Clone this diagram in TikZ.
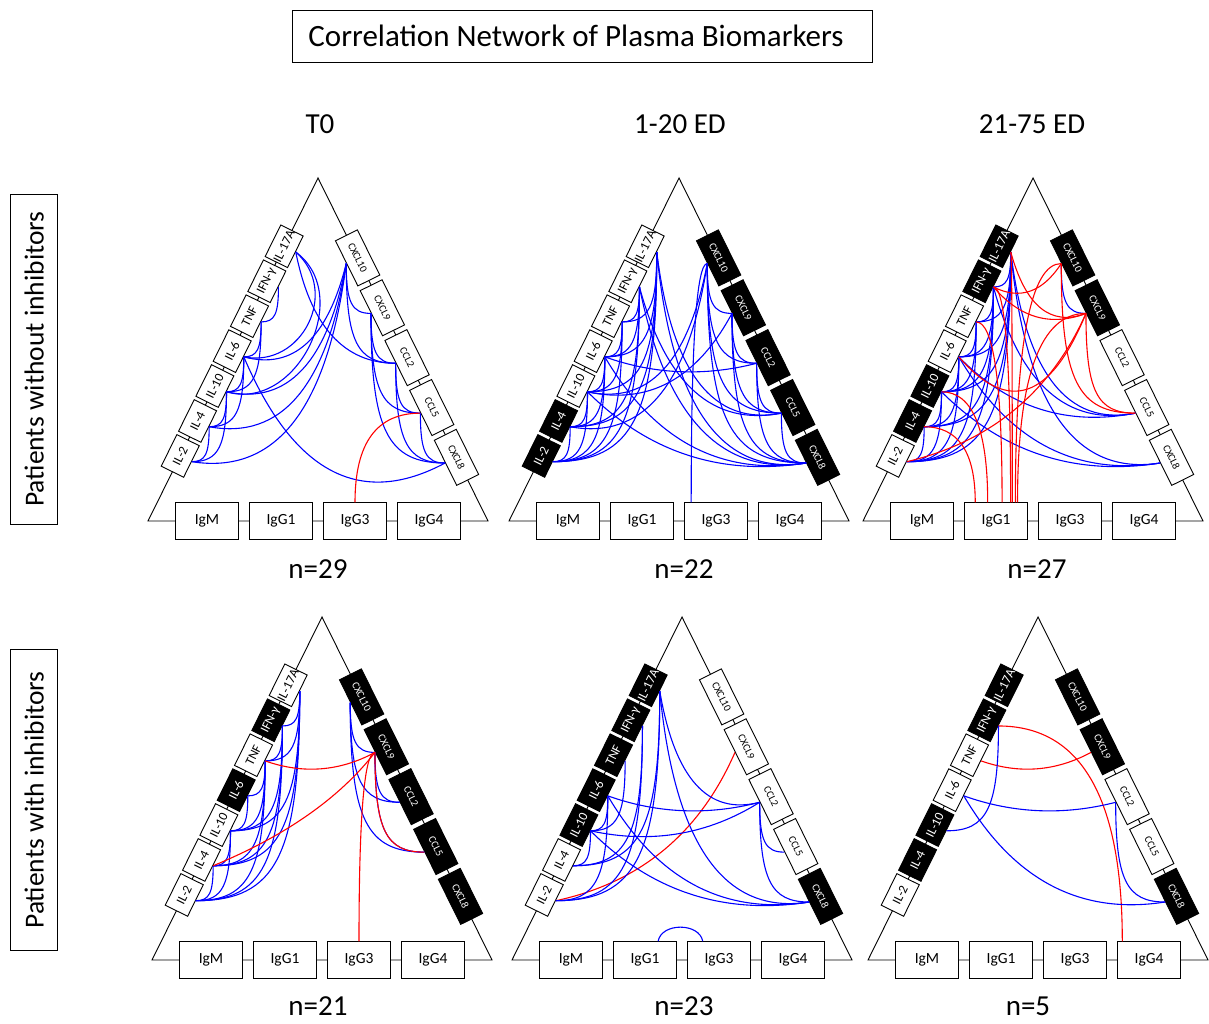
\documentclass[tikz,border=0pt]{standalone}
\usepackage{fontspec}
\setmainfont{Carlito}
\usetikzlibrary{calc}
\colorlet{w}{white}\colorlet{k}{black}\colorlet{tw}{black}\colorlet{tk}{white}
\definecolor{eb}{RGB}{0,0,255}
\definecolor{er}{RGB}{255,0,0}
\newcommand\lname[1]{\ifcase#1\relax IL-2\or IL-4\or IL-10\or IL-6\or TNF\or IFN-γ\or IL-17A\fi}
\newcommand\rname[1]{\ifcase#1\relax CXCL10\or CXCL9\or CCL2\or CCL5\or CXCL8\fi}
\newcommand\bname[1]{\ifcase#1\relax IgM\or IgG1\or IgG3\or IgG4\fi}
\tikzset{
 tri/.style={draw=black, line width=0.9pt},
 lbox/.style={draw=black, line width=0.9pt, minimum width=35.2pt, minimum height=25pt, inner sep=0pt, rotate=63.64, font=\fontsize{13}{13}\selectfont},
 rbox/.style={draw=black, line width=0.9pt, minimum width=50.4pt, minimum height=24.5pt, inner sep=0pt, rotate=-63.64, font=\fontsize{10.5}{10.5}\selectfont},
 bbox/.style={draw=black, fill=white, line width=0.9pt, minimum width=63pt, minimum height=36.5pt, inner sep=0pt, font=\fontsize{15.5}{15.5}\selectfont},
 bl/.style={draw=eb, line width=1.1pt},
 rd/.style={draw=er, line width=1.1pt},
 hdr/.style={font=\fontsize{29}{29}\selectfont, inner sep=0pt},
 rowlab/.style={draw=black, line width=0.9pt, rotate=90, minimum height=47pt, inner sep=0pt, font=\fontsize{27.5}{27.5}\selectfont},
}
\newcommand\tripanel[5]{%
 \draw[tri] ({#2-170},#3) -- (#2,{#3+343}) -- ({#2+170},#3) -- cycle;
 \foreach \c [count=\k from 0] in {#4}{%
   \node[lbox,fill=\c,text=t\c] (#1L\k) at ({#2-170+0.4441*(72.6+39*\k)},{#3+0.896*(72.6+39*\k)}) {\lname{\k}};}
 \foreach \c [count=\k from 0] in {#5}{%
   \node[rbox,fill=\c,text=t\c] (#1R\k) at ({#2+0.4441*(89.2+55.65*\k)},{#3+343-0.896*(89.2+55.65*\k)}) {\rname{\k}};}
 \foreach \d [count=\k from 0] in {-111,-37,37,111}{%
   \node[bbox] (#1B\k) at ({#2+\d},#3) {\bname{\k}};}
}
% quadratic-like curve from #3 to #4 with control point #5, factor #1
\newcommand\qd[5][0.6667]{\draw[#2] (#3) .. controls ($(#3)!#1!(#5)$) and ($(#4)!#1!(#5)$) .. (#4);}
\newcommand\LL[3]{\qd[0.78]{#1}{#2.south}{#3.south}{#3.south |- #2.south}}
\newcommand\RR[3]{\qd[0.78]{#1}{#2.south}{#3.south}{#2.south |- #3.south}}
\newcommand\XB[3]{\qd{#1}{#2.south}{#3}{#3 |- #2.south}}
\newcommand\LR[5][20]{\draw[#2] let \p1=(#3.south), \p2=(#4.south) in (\p1) .. controls ($(\p1)!0.6667!(#5pt,{min(\y1,\y2)-(#1pt)})$) and ($(\p2)!0.6667!(#5pt,{min(\y1,\y2)-(#1pt)})$) .. (\p2);}
\begin{document}
\begin{tikzpicture}[x=1pt,y=1pt]
\useasboundingbox (0,0) rectangle (1209,1023);
\node[draw, line width=0.9pt, minimum width=580pt, minimum height=52pt, inner sep=0pt, font=\fontsize{31}{31}\selectfont] (title) at (582,987) {Correlation Network of Plasma Biomarkers\hspace*{12pt}};
\node[hdr] (h1) at (320,899) {T0};
\node[hdr] (h2) at (680,899) {1-20 ED};
\node[hdr] (h3) at (1032,899) {21-75 ED};
\node[rowlab, minimum width=330pt] (r1) at (34.2,664) {Patients without inhibitors};
\node[rowlab, minimum width=301.7pt] (r2) at (34.2,223.1) {Patients with inhibitors};
\node[hdr] (n1) at (318,454) {n=29};
\node[hdr] (n2) at (684,454) {n=22};
\node[hdr] (n3) at (1037,454) {n=27};
\node[hdr] (n4) at (318,17) {n=21};
\node[hdr] (n5) at (684,17) {n=23};
\node[hdr] (n6) at (1028,17) {n=5};

\tripanel{a}{318}{502}{w,w,w,w,w,w,w}{w,w,w,w,w}
\tripanel{b}{679}{502}{k,k,w,w,w,w,w}{k,k,k,k,k}
\tripanel{c}{1033}{502}{w,k,k,w,w,k,k}{k,k,w,w,w}
\tripanel{d}{322}{63}{w,w,w,k,w,k,w}{k,k,k,k,k}
\tripanel{e}{682}{63}{w,w,k,k,k,k,k}{w,w,w,w,k}
\tripanel{f}{1038}{63}{w,k,k,w,w,k,k}{k,k,w,w,k}

% panel a
\LL{bl}{aL0}{aL1}\LL{bl}{aL0}{aL2}\LL{bl}{aL1}{aL2}\LL{bl}{aL1}{aL3}\LL{bl}{aL2}{aL3}
\LL{bl}{aL2}{aL4}\LL{bl}{aL3}{aL4}\LL{bl}{aL4}{aL5}
\draw[bl] (aL2.south) to[bend right=80, looseness=1.2] (aL6.south);
\draw[bl] (aL3.south) to[bend right=75, looseness=1.3] (aL6.south);
\LR{bl}{aL0}{aR0}{318}\LR{bl}{aL2}{aR0}{318}\LR{bl}{aL1}{aR0}{318}\LR{bl}{aL3}{aR0}{318}
\LR[0]{bl}{aL6}{aR2}{318}\LR[68]{bl}{aL3}{aR4}{318}
\RR{bl}{aR0}{aR1}\RR{bl}{aR0}{aR2}\RR{bl}{aR1}{aR2}\RR{bl}{aR1}{aR3}\RR{bl}{aR1}{aR4}
\RR{bl}{aR2}{aR3}\RR{bl}{aR2}{aR4}\RR{bl}{aR3}{aR4}
\XB{rd}{aR3}{aB2.north}

% panel b
\LL{bl}{bL0}{bL1}\LL{bl}{bL0}{bL2}\LL{bl}{bL0}{bL3}\LL{bl}{bL0}{bL4}\LL{bl}{bL0}{bL5}\LL{bl}{bL0}{bL6}
\LL{bl}{bL1}{bL2}\LL{bl}{bL1}{bL3}\LL{bl}{bL1}{bL5}\LL{bl}{bL1}{bL6}\LL{bl}{bL2}{bL3}\LL{bl}{bL2}{bL4}
\LL{bl}{bL3}{bL4}\LL{bl}{bL3}{bL5}\LL{bl}{bL4}{bL5}\LL{bl}{bL2}{bL6}\LL{bl}{bL3}{bL6}\LL{bl}{bL4}{bL6}
\LR{bl}{bL1}{bR0}{679}\LR{bl}{bL2}{bR0}{679}\LR{bl}{bL3}{bR2}{679}\LR{bl}{bL2}{bR1}{679}
\LR{bl}{bL2}{bR4}{679}\LR{bl}{bL3}{bR4}{679}\LR{bl}{bL6}{bR3}{679}\LR{bl}{bL6}{bR4}{679}
\LR{bl}{bL5}{bR3}{679}\LR{bl}{bL5}{bR4}{679}
\RR{bl}{bR0}{bR1}\RR{bl}{bR0}{bR2}\RR{bl}{bR0}{bR3}\RR{bl}{bR0}{bR4}\RR{bl}{bR1}{bR2}
\RR{bl}{bR1}{bR3}\RR{bl}{bR1}{bR4}\RR{bl}{bR2}{bR3}\RR{bl}{bR2}{bR4}\RR{bl}{bR3}{bR4}
\XB{bl}{bR0}{bB2.143}

% panel c
\LL{bl}{cL0}{cL1}\LL{bl}{cL0}{cL2}\LL{bl}{cL0}{cL3}\LL{bl}{cL0}{cL4}\LL{bl}{cL0}{cL5}\LL{bl}{cL0}{cL6}
\LL{bl}{cL1}{cL2}\LL{bl}{cL1}{cL3}\LL{bl}{cL1}{cL5}\LL{bl}{cL1}{cL6}\LL{bl}{cL2}{cL3}\LL{bl}{cL2}{cL4}
\LL{bl}{cL2}{cL5}\LL{bl}{cL2}{cL6}\LL{bl}{cL3}{cL4}\LL{bl}{cL3}{cL5}\LL{bl}{cL3}{cL6}\LL{bl}{cL4}{cL5}
\LL{bl}{cL4}{cL6}\LL{bl}{cL5}{cL6}
\LR{bl}{cL3}{cR3}{1033}\LR{bl}{cL3}{cR4}{1033}\LR{bl}{cL2}{cR4}{1033}\LR{bl}{cL6}{cR3}{1033}
\LR{bl}{cL5}{cR3}{1033}\LR{bl}{cL6}{cR4}{1033}
\RR{bl}{cR0}{cR1}
\XB{rd}{cL1}{cB1.138}\XB{rd}{cL2}{cB1.114}\XB{rd}{cL4}{cB1.72}\XB{rd}{cL5}{cB1.52}
\XB{rd}{cL6}{cB1.49}\XB{rd}{cR0}{cB1.44}\XB{rd}{cR1}{cB1.41}
\LR{rd}{cL5}{cR0}{1033}\LR{rd}{cL5}{cR1}{1033}\LR[86]{rd}{cL3}{cR1}{1033}\LR[-30]{rd}{cL0}{cR1}{1033}
\LR{rd}{cL6}{cR1}{1033}
\RR{rd}{cR0}{cR3}\RR{rd}{cR1}{cR3}

% panel d
\LL{bl}{dL0}{dL1}\LL{bl}{dL0}{dL2}\LL{bl}{dL0}{dL4}\LL{bl}{dL0}{dL5}\LL{bl}{dL0}{dL6}\LL{bl}{dL1}{dL2}
\LL{bl}{dL1}{dL4}\LL{bl}{dL1}{dL5}\LL{bl}{dL1}{dL6}\LL{bl}{dL2}{dL3}\LL{bl}{dL2}{dL4}\LL{bl}{dL2}{dL5}
\LL{bl}{dL2}{dL6}\LL{bl}{dL3}{dL4}\LL{bl}{dL4}{dL5}\LL{bl}{dL4}{dL6}\LL{bl}{dL5}{dL6}
\RR{bl}{dR0}{dR1}\RR{bl}{dR0}{dR2}\RR{bl}{dR0}{dR3}\RR{bl}{dR1}{dR2}\RR{bl}{dR1}{dR3}
\LR[-45]{rd}{dL1}{dR1}{322}\LR{rd}{dL4}{dR1}{322}
\RR{rd}{dR1}{dR3}
\XB{rd}{dR1}{dB2.north}

% panel e
\LR[-27]{rd}{eL0}{eR1}{682}
\LR{bl}{eL6}{eR4}{682}\LR{bl}{eL6}{eR2}{682}\LR{bl}{eL3}{eR2}{682}\LR{bl}{eL2}{eR2}{682}
\LR{bl}{eL2}{eR4}{682}\LR{bl}{eL3}{eR4}{682}
\RR{bl}{eR2}{eR3}\RR{bl}{eR2}{eR4}
\LL{bl}{eL0}{eL5}\LL{bl}{eL0}{eL6}\LL{bl}{eL1}{eL5}\LL{bl}{eL1}{eL6}\LL{bl}{eL2}{eL4}
\LL{bl}{eL2}{eL3}\LL{bl}{eL0}{eL3}\LL{bl}{eL1}{eL2}
\draw[bl] (eB1.55) to[bend left=80, looseness=1.1] (eB2.131);

% panel f
\XB{rd}{fL5}{fB3.145}
\LR{rd}{fL4}{fR1}{1038}
\LL{bl}{fL2}{fL5}
\LR{bl}{fL3}{fR2}{1038}\LR{bl}{fL3}{fR4}{1038}
\RR{bl}{fR2}{fR4}
\end{tikzpicture}
\end{document}
